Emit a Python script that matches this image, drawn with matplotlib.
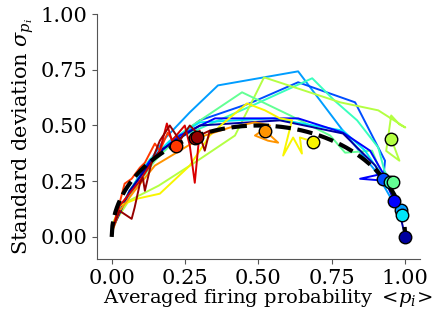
import numpy as np
import matplotlib
matplotlib.use("Agg")
import matplotlib.pyplot as plt

plt.rcParams['font.family'] = ['DejaVu Serif']
plt.rcParams['mathtext.fontset'] = 'dejavuserif'

# Trajectories of (mean firing probability, std of firing probability);
# the last point of each is the final state, marked with a circle.
cmap_pos = [0.28, 0.20, 0.42, 0.57, 0.47, 0.35, 0.12, 0.03, 0.65, 0.75, 0.85, 0.92, 0.98]

mean_a = [0.003, 0.044, 0.096, 0.181, 0.266, 0.362, 0.635, 0.795, 0.898, 0.956, 0.986]
std_a = [0.050, 0.162, 0.275, 0.441, 0.559, 0.680, 0.743, 0.464, 0.297, 0.162, 0.122]

mean_b = [0.003, 0.061, 0.164, 0.300, 0.471, 0.635, 0.829, 0.931, 0.925]
std_b = [0.050, 0.207, 0.387, 0.523, 0.600, 0.694, 0.604, 0.342, 0.261]

mean_c = [0.003, 0.058, 0.130, 0.246, 0.488, 0.683, 0.758, 0.836, 0.908, 0.929, 0.949]
std_c = [0.045, 0.200, 0.349, 0.455, 0.595, 0.712, 0.613, 0.523, 0.401, 0.297, 0.248]

mean_d = [0.003, 0.058, 0.160, 0.290, 0.420, 0.519, 0.778, 0.908, 1.000, 0.980, 0.952, 0.935, 0.980, 0.952]
std_d = [0.050, 0.162, 0.230, 0.340, 0.455, 0.716, 0.604, 0.568, 0.491, 0.505, 0.545, 0.386, 0.342, 0.441]

mean_e = [0.003, 0.061, 0.147, 0.249, 0.444, 0.608, 0.744, 0.795, 0.887, 0.915, 0.959]
std_e = [0.063, 0.185, 0.342, 0.477, 0.649, 0.545, 0.455, 0.378, 0.387, 0.297, 0.248]

mean_f = [0.003, 0.044, 0.113, 0.198, 0.300, 0.549, 0.788, 0.863, 0.932, 0.966, 0.990]
std_f = [0.036, 0.162, 0.320, 0.432, 0.514, 0.532, 0.477, 0.387, 0.252, 0.162, 0.099]

mean_g = [0.003, 0.055, 0.130, 0.232, 0.352, 0.635, 0.788, 0.880, 0.925, 0.846, 0.932, 0.962]
std_g = [0.045, 0.185, 0.342, 0.455, 0.532, 0.532, 0.468, 0.387, 0.284, 0.261, 0.252, 0.162]

mean_h = [0.003, 0.061, 0.164, 0.300, 0.573, 0.788, 0.898, 0.949, 0.983, 1.000]
std_h = [0.036, 0.207, 0.387, 0.500, 0.523, 0.464, 0.320, 0.207, 0.095, 0.000]

mean_i = [0.003, 0.027, 0.085, 0.164, 0.266, 0.334, 0.379, 0.461, 0.522, 0.573, 0.614, 0.584, 0.618, 0.648, 0.641, 0.686]
std_i = [0.050, 0.140, 0.171, 0.194, 0.320, 0.455, 0.509, 0.599, 0.568, 0.532, 0.523, 0.365, 0.446, 0.374, 0.446, 0.428]

mean_j = [0.003, 0.027, 0.078, 0.147, 0.232, 0.317, 0.403, 0.488, 0.539, 0.488, 0.532, 0.567, 0.522]
std_j = [0.027, 0.117, 0.207, 0.320, 0.387, 0.455, 0.491, 0.514, 0.500, 0.455, 0.432, 0.423, 0.477]

mean_k = [0.003, 0.020, 0.044, 0.068, 0.096, 0.113, 0.147, 0.164, 0.191, 0.218]
std_k = [0.036, 0.117, 0.239, 0.261, 0.311, 0.333, 0.419, 0.387, 0.468, 0.410]

mean_l = [0.003, 0.027, 0.055, 0.096, 0.130, 0.164, 0.188, 0.205, 0.249, 0.266, 0.283, 0.300, 0.283]
std_l = [0.036, 0.140, 0.185, 0.252, 0.320, 0.387, 0.509, 0.432, 0.500, 0.410, 0.243, 0.477, 0.446]

mean_m = [0.003, 0.027, 0.068, 0.078, 0.096, 0.106, 0.113, 0.137, 0.164, 0.198, 0.232, 0.266, 0.300, 0.317, 0.334, 0.290]
std_m = [0.036, 0.117, 0.081, 0.131, 0.239, 0.266, 0.207, 0.342, 0.432, 0.500, 0.432, 0.500, 0.455, 0.387, 0.477, 0.450]

trajectories = [
    (mean_a, std_a), (mean_b, std_b), (mean_c, std_c), (mean_d, std_d),
    (mean_e, std_e), (mean_f, std_f), (mean_g, std_g), (mean_h, std_h),
    (mean_i, std_i), (mean_j, std_j), (mean_k, std_k), (mean_l, std_l),
    (mean_m, std_m),
]

x_ticks = [0.00, 0.25, 0.50, 0.75, 1.00]
y_ticks = [0.00, 0.25, 0.50, 0.75, 1.00]

fig = plt.figure(figsize=(4.37, 3.2), dpi=100)
ax = fig.add_axes([0.222, 0.19, 0.739, 0.766])

cmap = plt.get_cmap('jet')
for (mx, sy), c in zip(trajectories, cmap_pos):
    ax.plot(mx, sy, color=cmap(c), lw=1.4, zorder=2)

# Bernoulli bound: sigma = sqrt(p (1 - p))
p = np.linspace(0, 1, 400)
ax.plot(p, np.sqrt(p * (1 - p)), color='black', lw=3, ls='--', zorder=3)

for (mx, sy), c in zip(trajectories, cmap_pos):
    ax.plot(mx[-1], sy[-1], 'o', color=cmap(c), mec='black', mew=1.0,
            ms=9, zorder=4)

ax.set_xlim(-0.05, 1.05)
ax.set_ylim(-0.1, 1.0)
ax.set_xticks(x_ticks)
ax.set_yticks(y_ticks)
ax.tick_params(labelsize=15, color='#555555')
for s in ['top', 'right']:
    ax.spines[s].set_visible(False)
for s in ['left', 'bottom']:
    ax.spines[s].set_color('#555555')

ax.set_xlabel(r'Averaged firing probability $<\!p_i\!>$', fontsize=14, labelpad=1)
ax.xaxis.set_label_coords(0.53, -0.115)
ax.set_ylabel(r'Standard deviation $\sigma_{p_i}$', fontsize=15, labelpad=3)

fig.savefig('out.png', dpi=100)
